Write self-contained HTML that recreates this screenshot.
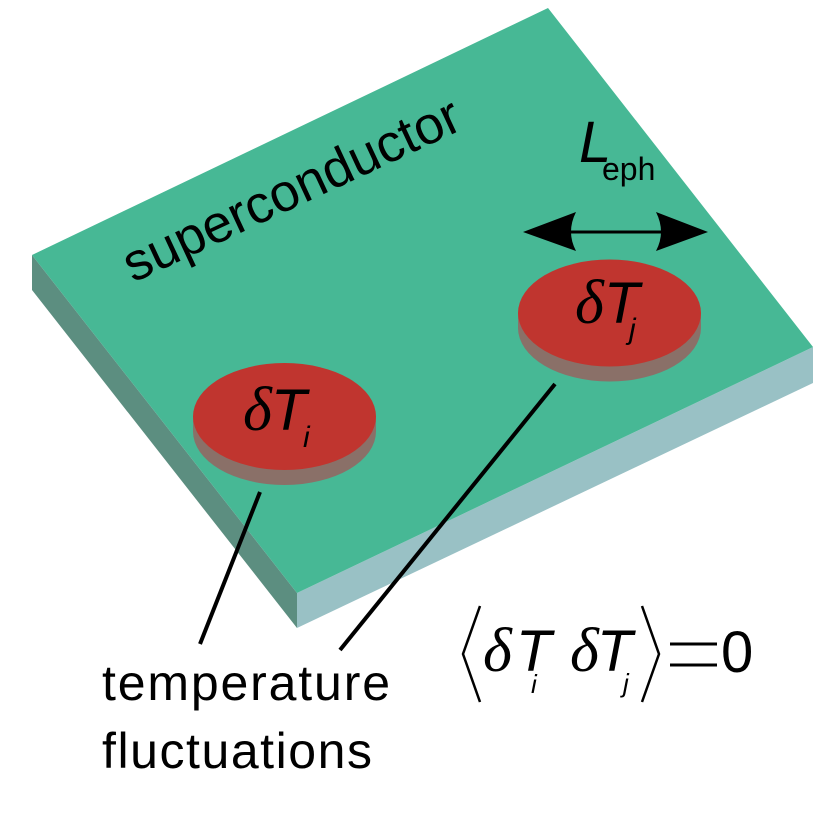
<!DOCTYPE html>
<html><head><meta charset="utf-8"><style>
html,body{margin:0;padding:0;background:#fff;}
svg{display:block;}
</style></head><body>
<svg width="824" height="824" viewBox="0 0 824 824" xmlns="http://www.w3.org/2000/svg">
  <!-- slab -->
  <polygon points="32,255 297,593 297,628 32,290" fill="#5c8e80"/>
  <polygon points="297,593 813,347 813,383 297,628" fill="#99c1c5"/>
  <polygon points="32,255 548,8 813,347 297,593" fill="#47b895"/>

  <!-- superconductor label -->
  <text x="133" y="283" transform="rotate(-25 133 283)" font-family="Liberation Sans, sans-serif" font-size="53" textLength="366" lengthAdjust="spacing" fill="#000">superconductor</text>

  <!-- disc i -->
  <ellipse cx="284.5" cy="431.5" rx="91.5" ry="53.5" fill="#8a7068"/>
  <rect x="193" y="416.5" width="183" height="15" fill="#8a7068"/>
  <ellipse cx="284.5" cy="416.5" rx="91.5" ry="53.5" fill="#c0352f"/>
  <text x="243" y="430" font-family="Liberation Serif, serif" font-style="italic" font-size="62" fill="#000">δ</text>
  <text x="271" y="430" font-family="Liberation Sans, sans-serif" font-style="italic" font-size="58" fill="#000">T</text>
  <text x="303" y="447" font-family="Liberation Sans, sans-serif" font-style="italic" font-size="30" fill="#000">i</text>

  <!-- disc j -->
  <ellipse cx="609.5" cy="328" rx="91.5" ry="53.5" fill="#8a7068"/>
  <rect x="518" y="313" width="183" height="15" fill="#8a7068"/>
  <ellipse cx="609.5" cy="313" rx="91.5" ry="53.5" fill="#c0352f"/>
  <text x="575" y="323" font-family="Liberation Serif, serif" font-style="italic" font-size="62" fill="#000">δ</text>
  <text x="604" y="323" font-family="Liberation Sans, sans-serif" font-style="italic" font-size="58" fill="#000">T</text>
  <text x="629" y="339" font-family="Liberation Sans, sans-serif" font-style="italic" font-size="30" fill="#000">j</text>

  <!-- L_eph arrow -->
  <line x1="568" y1="232" x2="664" y2="232" stroke="#000" stroke-width="3"/>
  <path d="M523,232 L576,212 Q566,232 576,251 Z" fill="#000"/>
  <path d="M708,232 L656,212 Q666,232 656,251 Z" fill="#000"/>
  <text x="579" y="162" font-family="Liberation Sans, sans-serif" font-style="italic" font-size="58" fill="#000">L</text>
  <text x="602" y="180" font-family="Liberation Sans, sans-serif" font-size="32" fill="#000">eph</text>

  <!-- pointer lines -->
  <line x1="260" y1="492" x2="200" y2="644" stroke="#000" stroke-width="4"/>
  <line x1="555" y1="384" x2="340" y2="650" stroke="#000" stroke-width="4"/>

  <!-- caption -->
  <text x="102" y="700" font-family="Liberation Sans, sans-serif" font-size="50" textLength="288" lengthAdjust="spacing" fill="#000">temperature</text>
  <text x="102" y="768" font-family="Liberation Sans, sans-serif" font-size="50" textLength="270" lengthAdjust="spacing" fill="#000">fluctuations</text>

  <!-- equation -->
  <polyline points="480,606 463,654 480,702" fill="none" stroke="#000" stroke-width="2.5"/>
  <text x="483" y="671" font-family="Liberation Serif, serif" font-style="italic" font-size="62" fill="#000">δ</text>
  <text x="516" y="671" font-family="Liberation Sans, sans-serif" font-style="italic" font-size="58" fill="#000">T</text>
  <text x="531" y="693" font-family="Liberation Sans, sans-serif" font-style="italic" font-size="26" fill="#000">i</text>
  <text x="570" y="671" font-family="Liberation Serif, serif" font-style="italic" font-size="62" fill="#000">δ</text>
  <text x="597" y="671" font-family="Liberation Sans, sans-serif" font-style="italic" font-size="58" fill="#000">T</text>
  <text x="623" y="692" font-family="Liberation Sans, sans-serif" font-style="italic" font-size="26" fill="#000">j</text>
  <polyline points="642,606 659,654 642,702" fill="none" stroke="#000" stroke-width="2.5"/>
  <line x1="670" y1="644" x2="717" y2="644" stroke="#000" stroke-width="3"/>
  <line x1="670" y1="665" x2="717" y2="665" stroke="#000" stroke-width="3"/>
  <text x="721" y="672" font-family="Liberation Sans, sans-serif" font-size="58" fill="#000">0</text>
</svg>
</body></html>
